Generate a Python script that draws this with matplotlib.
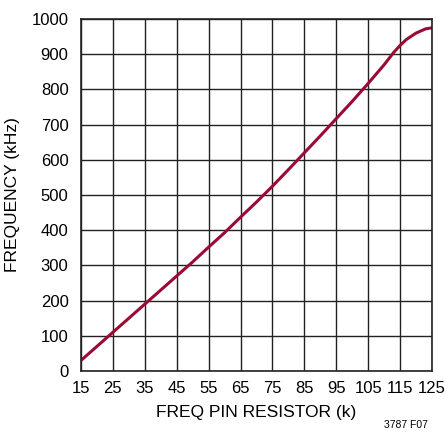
import numpy as np
import matplotlib.pyplot as plt
from matplotlib import font_manager

# curve
resistor_k = [15, 20, 25, 30, 35, 40, 45, 50, 55, 60, 65, 70, 75, 80, 85, 90,
              95, 100, 105, 110, 113, 115, 117, 120, 123, 125]
freq_khz = [30, 70, 110, 150, 190, 230, 270, 310, 352, 393, 437, 480, 525, 572,
            620, 668, 717, 766, 817, 870, 905, 925, 942, 960, 972, 975]
x_ticks = list(range(15, 126, 10))
y_ticks = list(range(0, 1001, 100))

names = {f.name for f in font_manager.fontManager.ttflist}
family = 'Liberation Sans Narrow' if 'Liberation Sans Narrow' in names else 'Liberation Sans'
plt.rcParams['font.family'] = [family, 'DejaVu Sans']

fig = plt.figure(figsize=(4.48, 4.37), dpi=100)
ax = fig.add_axes([81 / 448, 1 - 371 / 437, 351 / 448, 352 / 437])

ax.plot(resistor_k, freq_khz, color='#9b0a35', linewidth=2.2, solid_capstyle='butt')

ax.set_xlim(15, 125)
ax.set_ylim(0, 1000)
ax.set_xticks(x_ticks)
ax.set_yticks(y_ticks)
ax.grid(True, color='#222222', linewidth=1.0)
ax.set_axisbelow(True)
for s in ax.spines.values():
    s.set_linewidth(1.2)
    s.set_color('#222222')
ax.tick_params(length=0, labelsize=12)
ax.tick_params(axis='y', pad=9)
ax.tick_params(axis='x', pad=7)

ax.set_xlabel('FREQ PIN RESISTOR (k)', fontsize=12.5, labelpad=7)
ax.set_ylabel('FREQUENCY (kHz)', fontsize=12.5, labelpad=8)
fig.text(428 / 448, 1 - 425 / 437, '3787 F07', fontsize=7.5, ha='right', va='center')

fig.savefig('out.png', dpi=100)
